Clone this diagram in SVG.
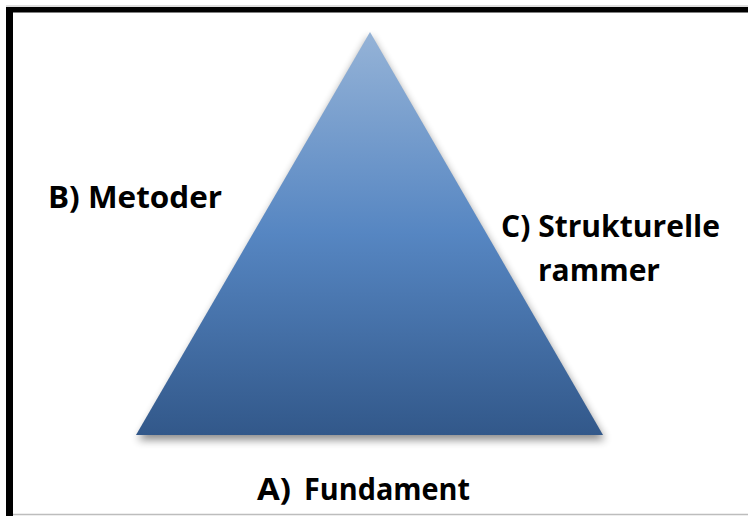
<svg xmlns="http://www.w3.org/2000/svg" width="748" height="516" viewBox="0 0 748 516">
  <defs>
    <linearGradient id="tri" x1="0" y1="0" x2="0" y2="1">
      <stop offset="0" stop-color="#95b3d7"/>
      <stop offset="0.5" stop-color="#5686c2"/>
      <stop offset="1" stop-color="#32588a"/>
    </linearGradient>
    <filter id="shadow" x="-20%" y="-20%" width="140%" height="140%">
      <feGaussianBlur stdDeviation="4"/>
    </filter>
  </defs>
  <style>
    .lbl { font-family: "Open Sans", "Liberation Sans", sans-serif; font-weight: bold; font-size: 30px; fill: #000; }
  </style>
  <rect x="0" y="0" width="748" height="516" fill="#ffffff"/>
  <g id="frame">
    <line x1="6" y1="6" x2="748" y2="6" stroke="#bdbdbd" stroke-width="1"/>
    <line x1="13" y1="514.5" x2="748" y2="514.5" stroke="#bdbdbd" stroke-width="1.5"/>
    <rect x="6" y="7" width="742" height="5.5" fill="#000"/>
    <rect x="6" y="7" width="7" height="509" fill="#000"/>
  </g>
  <g id="pyramid">
    <polygon points="370,36 138,440 605,440" fill="#000" opacity="0.45" filter="url(#shadow)"/>
    <polygon points="370,32 136,435 603,435" fill="url(#tri)"/>
  </g>
  <g id="labelB">
    <text class="lbl" x="48" y="208" textLength="174" lengthAdjust="spacingAndGlyphs">B) Metoder</text>
  </g>
  <g id="labelC">
    <text class="lbl" x="501" y="237" textLength="219" lengthAdjust="spacingAndGlyphs">C) Strukturelle</text>
    <text class="lbl" x="538" y="281" textLength="122" lengthAdjust="spacingAndGlyphs">rammer</text>
  </g>
  <g id="labelA">
    <text class="lbl" x="257" y="500" textLength="34" lengthAdjust="spacingAndGlyphs">A)</text>
    <text class="lbl" x="304" y="500" textLength="166" lengthAdjust="spacingAndGlyphs">Fundament</text>
  </g>
  <g id="connectors"/>
</svg>
